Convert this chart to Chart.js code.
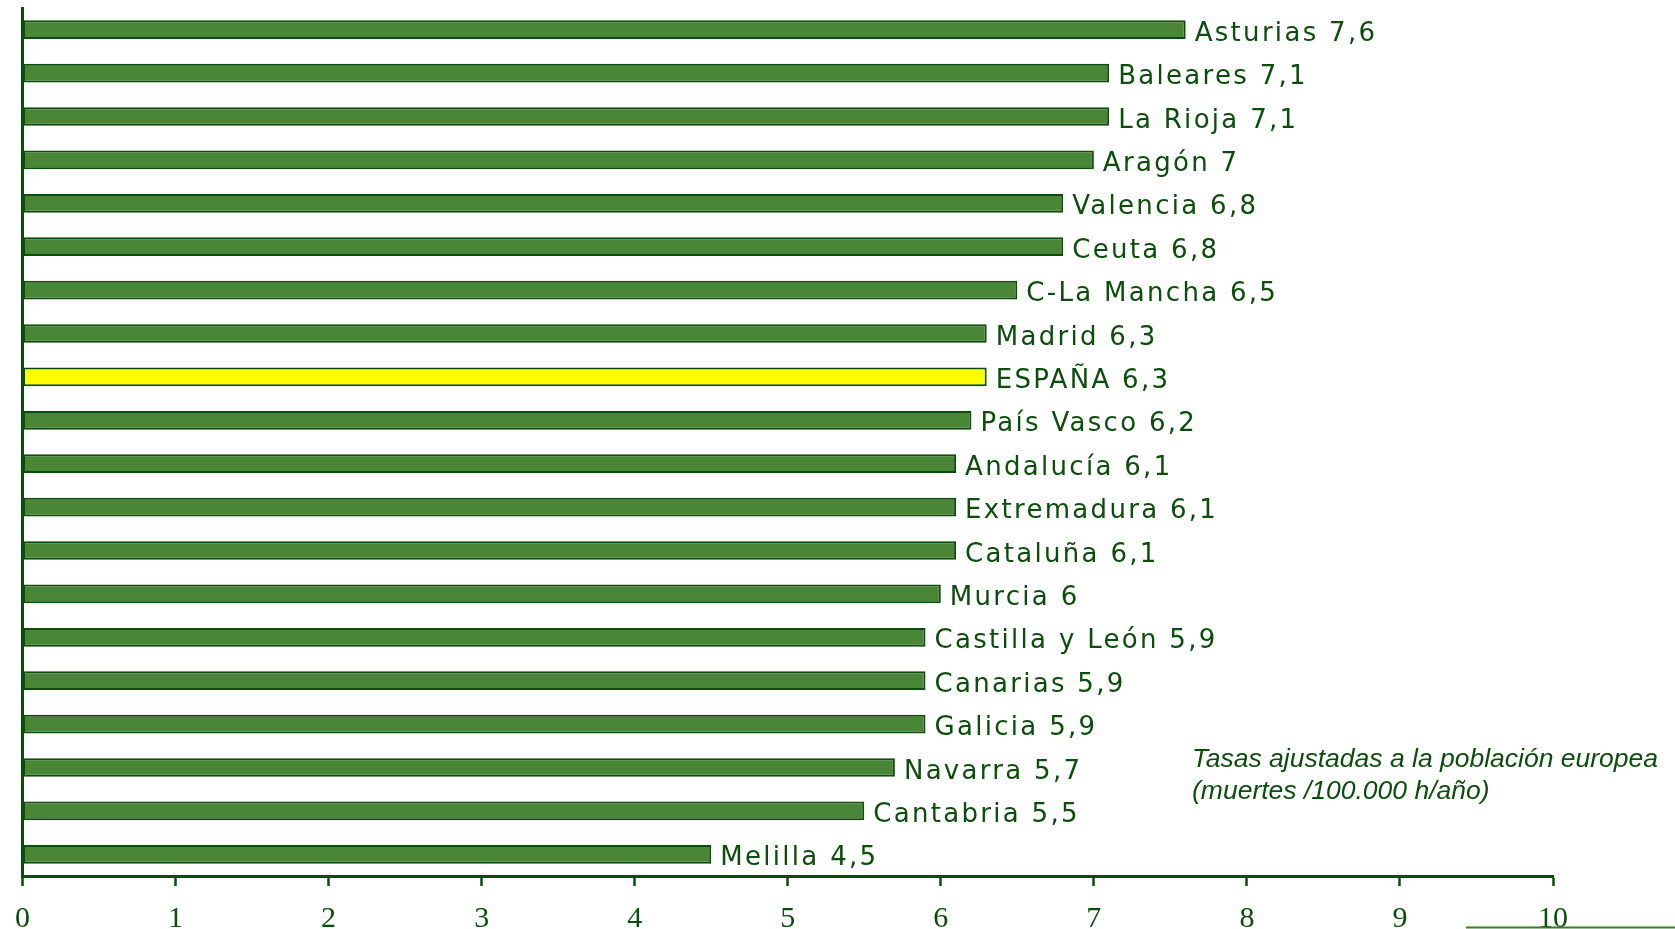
<!DOCTYPE html>
<html>
<head>
<meta charset="utf-8">
<script src="https://cdn.jsdelivr.net/npm/chart.js@4"></script>
<style>
  body { margin: 0; background: #fff; }
  canvas { display: block; }
</style>
</head>
<body>
<canvas id="chartTasas" width="1675" height="929"></canvas>
<script>
var regiones = ['Asturias', 'Baleares', 'La Rioja', 'Aragón', 'Valencia', 'Ceuta', 'C-La Mancha', 'Madrid', 'ESPAÑA',
  'País Vasco', 'Andalucía', 'Extremadura', 'Cataluña', 'Murcia', 'Castilla y León', 'Canarias', 'Galicia',
  'Navarra', 'Cantabria', 'Melilla']
var tasas = [7.6, 7.1, 7.1, 7, 6.8, 6.8, 6.5, 6.3, 6.3, 6.2, 6.1, 6.1, 6.1, 6, 5.9, 5.9, 5.9, 5.7, 5.5, 4.5]
var ejeTicks = [0, 1, 2, 3, 4, 5, 6, 7, 8, 9, 10]
var nota = ['Tasas ajustadas a la población europea', '(muertes /100.000 h/año)']

var verde = '#4a8538'
var verdeOscuro = '#0b4d0b'
var amarillo = '#ffff00'

var colores = regiones.map(function(r) {
  return r == 'ESPAÑA' ? amarillo : verde
})

// etiquetas al final de cada barra + nota
var etiquetas = {
  id: 'etiquetas',
  afterDatasetsDraw: function(chart) {
    var ctx = chart.ctx
    var meta = chart.getDatasetMeta(0)
    ctx.save()
    ctx.fillStyle = verdeOscuro
    ctx.font = '26px "DejaVu Sans"'
    ctx.letterSpacing = '2.3px'
    ctx.textAlign = 'left'
    ctx.textBaseline = 'alphabetic'
    meta.data.forEach(function(bar, i) {
      var txt = regiones[i] + ' ' + String(tasas[i]).replace('.', ',')
      ctx.fillText(txt, bar.x + 9, bar.y + 11)
    })
    ctx.letterSpacing = '0px'
    ctx.font = 'italic 26.5px "Liberation Sans"'
    ctx.fillText(nota[0], 1192, 767)
    ctx.fillText(nota[1], 1192, 799)

    ctx.strokeStyle = '#3d7a2a'
    ctx.lineWidth = 2
    ctx.beginPath()
    ctx.moveTo(1466, 927.5)
    ctx.lineTo(1675, 927.5)
    ctx.stroke()
    ctx.restore()
  }
}

var chartTasas = new Chart(document.getElementById('chartTasas').getContext('2d'), {
  type: 'bar',
  data: {
    labels: regiones,
    datasets: [{
      data: tasas,
      backgroundColor: colores,
      borderColor: verdeOscuro,
      borderWidth: 2,
      borderSkipped: false,
      barPercentage: 0.43,
      categoryPercentage: 1
    }]
  },
  options: {
    indexAxis: 'y',
    responsive: false,
    animation: false,
    layout: {
      padding: { left: 10.5, right: 122, top: 8, bottom: 0 }
    },
    plugins: {
      legend: { display: false },
      tooltip: { enabled: false }
    },
    scales: {
      x: {
        min: 0,
        max: 10,
        afterBuildTicks: function(scale) {
          scale.ticks = ejeTicks.map(function(v) { return { value: v } })
        },
        afterFit: function(scale) { scale.height = 53 },
        ticks: {
          color: verdeOscuro,
          padding: 15,
          maxRotation: 0,
          font: { family: '"Liberation Serif"', size: 30 }
        },
        grid: {
          drawOnChartArea: false,
          tickLength: 10,
          tickWidth: 2.5,
          color: verdeOscuro
        },
        border: { color: verdeOscuro, width: 3 }
      },
      y: {
        afterFit: function(scale) { scale.width = 0 },
        ticks: { display: false },
        grid: { drawOnChartArea: false, drawTicks: false },
        border: { color: verdeOscuro, width: 3 }
      }
    }
  },
  plugins: [etiquetas]
});
</script>
</body>
</html>
